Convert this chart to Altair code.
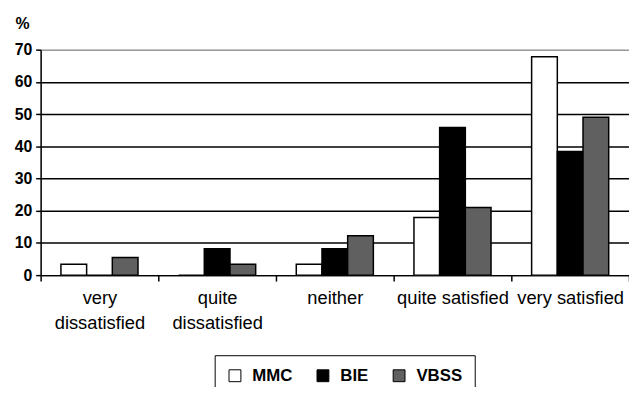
import altair as alt
import pandas as pd

categories = ["very dissatisfied", "quite dissatisfied", "neither", "quite satisfied", "very satisfied"]
label_lines = {
    "very dissatisfied": ["very", "dissatisfied"],
    "quite dissatisfied": ["quite", "dissatisfied"],
}
series = ["MMC", "BIE", "VBSS"]
mmc = [3.4, 0.0, 3.4, 17.9, 67.8]
bie = [0.0, 8.2, 8.2, 45.8, 38.4]
vbss = [5.5, 3.4, 12.2, 21.0, 49.0]
colors = ["#ffffff", "#000000", "#606060"]
y_ticks = [0, 10, 20, 30, 40, 50, 60, 70]

rows = []
for s, vals in zip(series, [mmc, bie, vbss]):
    for c, v in zip(categories, vals):
        rows.append({"category": c, "series": s, "value": v})
df = pd.DataFrame(rows)

FONT = "Liberation Sans"
W, H = 595, 228

expr = "datum.label"
for k, parts in label_lines.items():
    arr = "[" + ",".join("'%s'" % p for p in parts) + "]"
    expr = "datum.value == '%s' ? %s : (%s)" % (k, arr, expr)

bars = alt.Chart(df).mark_bar(stroke="black", strokeWidth=1.5).encode(
    x=alt.X(
        "category:N",
        sort=categories,
        scale=alt.Scale(paddingInner=0, paddingOuter=0),
        axis=alt.Axis(
            title=None,
            labelAngle=0,
            labelExpr=expr,
            labelFont=FONT,
            labelFontSize=18.5,
            labelLineHeight=25,
            labelColor="black",
            labelPadding=8,
            labelBaseline="top",
            labelOverlap=False,
            labelLimit=300,
            tickBand="extent",
            tickColor="black",
            tickSize=6,
            tickWidth=1.5,
            domainColor="black",
            domainWidth=1.5,
        ),
    ),
    xOffset=alt.XOffset("series:N", sort=series, scale=alt.Scale(paddingInner=0, paddingOuter=0.79)),
    y=alt.Y(
        "value:Q",
        scale=alt.Scale(domain=[0, 70], nice=False),
        axis=alt.Axis(
            values=y_ticks,
            title="%",
            titleAngle=0,
            titleAlign="left",
            titleBaseline="alphabetic",
            titleX=-26,
            titleY=-21,
            titleFont=FONT,
            titleFontSize=16,
            titleFontWeight="bold",
            titleColor="black",
            labelFont=FONT,
            labelFontSize=16,
            labelFontWeight="bold",
            labelColor="black",
            labelPadding=4,
            tickColor="black",
            tickSize=5,
            tickWidth=1.5,
            domainColor="black",
            domainWidth=1.5,
            grid=True,
            gridColor={"condition": {"test": "datum.value === 70", "value": "#999999"}, "value": "black"},
            gridWidth=1.5,
        ),
    ),
    color=alt.Color(
        "series:N",
        sort=series,
        scale=alt.Scale(domain=series, range=colors),
        legend=alt.Legend(
            title=None,
            orient="none",
            legendX=176,
            legendY=309,
            direction="horizontal",
            symbolType="square",
            symbolSize=144,
            symbolStrokeColor="black",
            symbolStrokeWidth=1,
            symbolOpacity=1,
            labelFont=FONT,
            labelFontSize=17,
            labelFontWeight="bold",
            labelColor="black",
            labelOffset=9,
            columnPadding=22,
            padding=12,
            strokeColor="black",
            fillColor="white",
        ),
    ),
)

chart = bars.properties(
    width=W,
    height=H,
    autosize=alt.AutoSizeParams(type="none"),
    padding={"left": 33, "top": 40, "right": 0, "bottom": 111},
).configure_view(stroke="#999999", strokeWidth=1.5).configure(background="white")

chart.save("out.html", embed_options={"renderer": "svg", "actions": False})
